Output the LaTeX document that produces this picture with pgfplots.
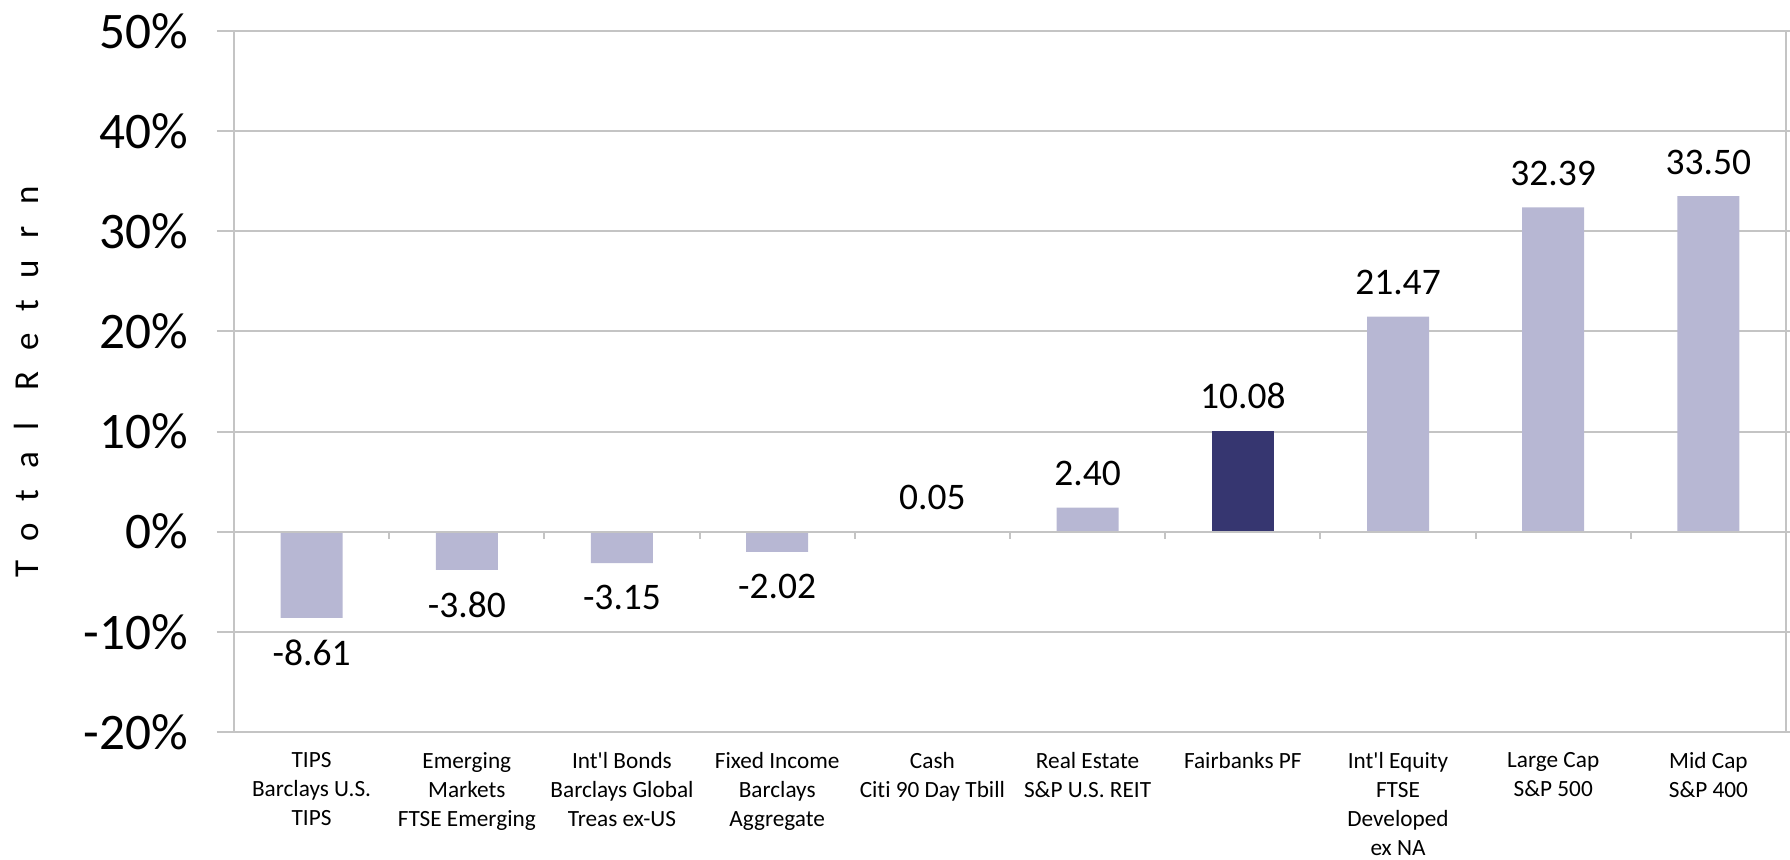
\documentclass[border=0pt]{standalone}
\usepackage{pgfplots}
\pgfplotsset{compat=1.18}
\usepackage{fontspec}
\setmainfont{Carlito}[Ligatures={NoCommon}]
\definecolor{lightbar}{RGB}{183,183,211}
\definecolor{darkbar}{RGB}{54,54,112}
\definecolor{gridgray}{RGB}{196,196,196}

\begin{document}
\begin{tikzpicture}
  % page frame: 1790 x 860 px at 0.4pt per px
  \useasboundingbox (-93.6pt,-51.2pt) rectangle (622.4pt,292.8pt);
  \begin{axis}[
      at={(0pt,0pt)}, anchor=south west,
      scale only axis,
      width=620.8pt, height=280.4pt,
      xmin=-0.5, xmax=9.5,
      ymin=-20, ymax=50,
      ytick={-20,-10,0,10,20,30,40,50},
      yticklabels={-20\%,-10\%,0\%,10\%,20\%,30\%,40\%,50\%},
      xtick={0,1,2,3,4,5,6,7,8,9},
      xticklabels={
        {TIPS\\Barclays U.S.\\TIPS},
        {Emerging\\Markets\\FTSE Emerging},
        {Int\textquotesingle l Bonds\\Barclays Global\\Treas ex-US},
        {Fixed Income\\Barclays\\Aggregate},
        {Cash\\Citi 90 Day Tbill},
        {Real Estate\\S\&P U.S. REIT},
        {Fairbanks PF},
        {Int\textquotesingle l Equity\\FTSE\\Developed\\ex NA},
        {Large Cap\\S\&P 500},
        {Mid Cap\\S\&P 400}},
      x tick style={draw=none},
      tick align=outside,
      major tick length=6.8pt,
      y tick style={gridgray, line width=0.8pt},
      axis line style={gridgray, line width=0.8pt},
      ymajorgrids,
      grid style={gridgray, line width=0.8pt},
      xticklabel style={font=\fontsize{9.3}{11.6}\selectfont, align=center, anchor=north, yshift=2pt},
      yticklabel style={font=\fontsize{20.5}{24}\selectfont, xshift=-8pt},
      ylabel={\addfontfeature{LetterSpace=62}Total\kern0.9em Return},
      ylabel style={font=\fontsize{14}{16}\selectfont, at={(axis description cs:0,0.5)}, anchor=center, yshift=83pt},
      /pgf/number format/assume math mode=true,
      nodes near coords={\pgfmathprintnumber[fixed,fixed zerofill,precision=2]{\pgfplotspointmeta}},
      nodes near coords align={vertical},
      every node near coord/.append style={font=\fontsize{15}{18}\selectfont, inner ysep=8.5pt, black},
      clip=false,
    ]
    \addplot[ybar, bar width=24.8pt, bar shift=0pt, fill=lightbar, draw=none] coordinates {
      (0,-8.61) (1,-3.80) (2,-3.15) (3,-2.02) (4,0.05) (5,2.40)
      (7,21.47) (8,32.39) (9,33.50)
    };
    \addplot[ybar, bar width=24.8pt, bar shift=0pt, fill=darkbar, draw=none] coordinates {
      (6,10.08)
    };
    % horizontal axis at zero with small ticks between categories
    \draw[gridgray, line width=0.8pt] (axis cs:-0.5,0) -- (axis cs:9.5,0);
    \pgfplotsinvokeforeach{0.5,1.5,2.5,3.5,4.5,5.5,6.5,7.5,8.5}{
      \draw[gridgray, line width=0.8pt] (axis cs:#1,0) -- ++(0pt,-2.8pt);
    }
  \end{axis}
\end{tikzpicture}
\end{document}
